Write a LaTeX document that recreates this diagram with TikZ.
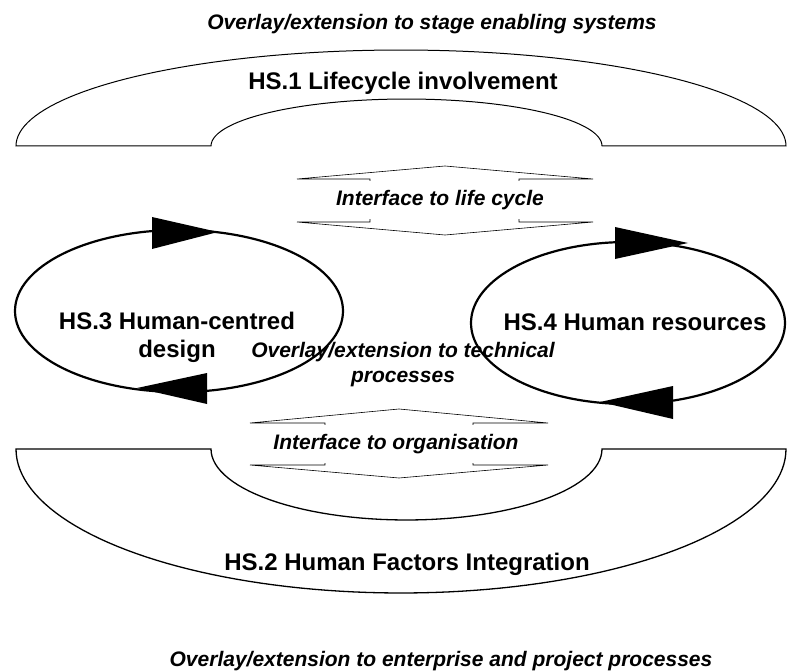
\documentclass[tikz,border=0pt]{standalone}
\usepackage{fontspec}
\setmainfont{Liberation Sans}
\setsansfont{Liberation Sans}
\usepackage{tikz}
\usetikzlibrary{positioning, shapes.geometric, calc}

\begin{document}
\begin{tikzpicture}[
    x=1pt, y=-1pt,
    every node/.style={font=\sffamily},
    title/.style={font=\sffamily\bfseries\fontsize{24}{28}\selectfont, align=center, inner sep=0pt},
    note/.style={font=\sffamily\bfseries\itshape\fontsize{21}{25}\selectfont, align=center, inner sep=0pt},
    loop/.style={ellipse, draw=black, line width=2.2pt, inner sep=0pt},
    head/.style={fill=black},
    arch/.style={draw=black, line width=1pt},
    iface/.style={draw=black, line width=0.6pt, fill=white},
    ilabel/.style={note, fill=white, minimum height=38pt, inner sep=2pt}
]
\useasboundingbox (0,0) rectangle (787,671);

% Arches
\draw[arch] plot[domain=180:0, samples=90, variable=\t] ({401+385*cos(\t)}, {146-96*sin(\t)})
    -- (602,146)
    -- plot[domain=0:180, samples=60, variable=\t] ({406.5+195.5*cos(\t)}, {146-47*sin(\t)})
    -- cycle;
\draw[arch, line width=1.3pt] plot[domain=180:0, samples=90, variable=\t] ({401+385*cos(\t)}, {449+144*sin(\t)})
    -- (602,449)
    -- plot[domain=0:180, samples=60, variable=\t] ({406.5+195.5*cos(\t)}, {449+71*sin(\t)})
    -- cycle;

% Interface arrows
\draw[iface] (445,166) -- (593,179) -- (519,179) -- (519,222) -- (593,222) -- (445,235)
    -- (297,222) -- (370,222) -- (370,179) -- (297,179) -- cycle;
\draw[iface] (399,409) -- (548,423) -- (473,423) -- (473,465) -- (548,465) -- (399,478)
    -- (250,465) -- (325,465) -- (325,423) -- (250,423) -- cycle;

% Loops
\node[loop, minimum width=328pt, minimum height=162pt] (hs3) at (179,311) {};
\node[loop, minimum width=314pt, minimum height=162pt] (hs4) at (628,323) {};

\fill[head] (152,217) -- (218,232) -- (152,249) -- cycle;
\fill[head] (207,373) -- (137,388) -- (207,404) -- cycle;
\fill[head] (615,227) -- (688,243) -- (615,259) -- cycle;
\fill[head] (673,386) -- (600,402) -- (673,419) -- cycle;

% Labels
\node[note, anchor=base] (stage) at (432,30) {Overlay/extension to stage enabling systems};
\node[title, anchor=base] (hs1) at (403,90) {HS.1 Lifecycle involvement};
\node[ilabel] (lifecycle) at (440,200.5) {Interface to life cycle};
\node[title] (hs3 text) at (177,337) {HS.3 Human-centred\\design};
\node[title, anchor=base] (hs4 text) at (635,330) {HS.4 Human resources};
\node[note] (technical) at (403,365) {Overlay/extension to technical\\processes};
\node[ilabel] (organisation) at (396,444) {Interface to organisation};
\node[title, anchor=base] (hs2) at (407,570) {HS.2 Human Factors Integration};
\node[note, anchor=base] (enterprise) at (441,666) {Overlay/extension to enterprise and project processes};

\end{tikzpicture}
\end{document}
